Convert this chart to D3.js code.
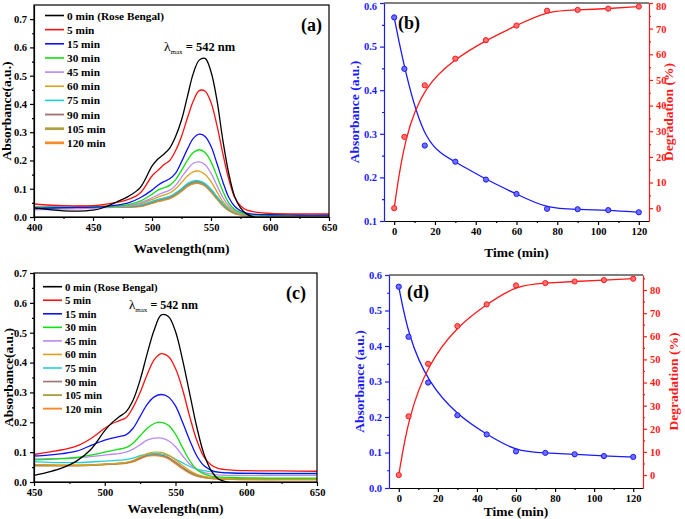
<!DOCTYPE html>
<html><head><meta charset="utf-8">
<script src="https://cdn.jsdelivr.net/npm/d3@7"></script>
<style>
body{margin:0;background:#fff}
svg{display:block}
text{font-family:"Liberation Serif","Times New Roman",serif;font-weight:bold}
</style>
</head><body><svg id="c" width="685" height="519"></svg>
<script>
// ---------- shared ----------
const seriesLabels = ["0 min (Rose Bengal)","5 min","15 min","30 min","45 min","60 min","75 min","90 min","105 min","120 min"];
const seriesColors = ["#000000","#ff1010","#1010ff","#10e010","#b98af0","#d8a21a","#22d0d0","#a07878","#aca040","#f58a2a"];

// ---------- panel (a) ----------
const wlA = [400,425,450,460,470,480,490,500,505,510,515,520,525,530,535,540,545,550,555,560,565,570,575,580,590,600,625,650];
const a0   = [0.032,0.022,0.024,0.035,0.053,0.073,0.104,0.180,0.205,0.222,0.244,0.285,0.343,0.426,0.508,0.555,0.561,0.514,0.414,0.273,0.155,0.073,0.032,0.011,-0.004,-0.003,-0.002,-0.002];
const a5   = [0.046,0.040,0.040,0.045,0.052,0.062,0.085,0.145,0.165,0.185,0.200,0.235,0.285,0.350,0.410,0.447,0.445,0.405,0.325,0.225,0.135,0.070,0.040,0.025,0.016,0.013,0.011,0.011];
const a15  = [0.030,0.033,0.035,0.037,0.042,0.050,0.068,0.095,0.112,0.125,0.135,0.155,0.195,0.240,0.278,0.293,0.285,0.250,0.190,0.125,0.070,0.038,0.022,0.014,0.009,0.008,0.007,0.007];
const a30  = [0.030,0.033,0.035,0.036,0.038,0.044,0.056,0.080,0.095,0.103,0.112,0.132,0.165,0.200,0.228,0.238,0.228,0.195,0.145,0.092,0.050,0.027,0.016,0.010,0.007,0.006,0.006,0.006];
const a45  = [0.025,0.028,0.031,0.033,0.035,0.040,0.050,0.068,0.078,0.087,0.095,0.112,0.140,0.168,0.190,0.195,0.185,0.155,0.112,0.070,0.040,0.022,0.013,0.008,0.006,0.005,0.005,0.005];
const a60  = [0.030,0.032,0.034,0.035,0.036,0.040,0.047,0.062,0.070,0.077,0.085,0.100,0.122,0.145,0.160,0.162,0.150,0.125,0.090,0.055,0.032,0.018,0.011,0.007,0.005,0.004,0.004,0.004];
const a75  = [0.035,0.036,0.037,0.037,0.037,0.038,0.042,0.055,0.062,0.067,0.073,0.085,0.100,0.118,0.128,0.128,0.118,0.098,0.072,0.047,0.028,0.016,0.010,0.007,0.005,0.004,0.004,0.004];
const a90  = [0.033,0.035,0.036,0.036,0.036,0.037,0.040,0.053,0.060,0.065,0.071,0.083,0.098,0.115,0.124,0.125,0.116,0.096,0.070,0.045,0.027,0.015,0.010,0.006,0.004,0.004,0.004,0.004];
const a105 = [0.034,0.035,0.036,0.036,0.036,0.037,0.040,0.052,0.058,0.063,0.069,0.080,0.095,0.112,0.121,0.122,0.113,0.093,0.068,0.044,0.026,0.015,0.010,0.006,0.004,0.004,0.004,0.004];
const a120 = [0.034,0.035,0.036,0.036,0.036,0.037,0.039,0.050,0.056,0.061,0.067,0.078,0.093,0.110,0.119,0.120,0.111,0.091,0.066,0.042,0.025,0.014,0.009,0.006,0.004,0.004,0.004,0.004];
const xTicksA = [400,450,500,550,600,650];
const yTicksA = [0.0,0.1,0.2,0.3,0.4,0.5,0.6,0.7];

// ---------- panel (c) ----------
const wlC = [450,460,470,480,490,500,505,510,515,520,525,530,535,540,545,550,555,560,565,570,575,580,590,600,625,650];
const c0   = [0.022,0.033,0.047,0.070,0.108,0.172,0.198,0.218,0.235,0.274,0.342,0.430,0.510,0.560,0.554,0.504,0.409,0.297,0.185,0.095,0.040,0.011,-0.003,-0.004,-0.004,-0.004];
const c5   = [0.092,0.100,0.108,0.120,0.145,0.180,0.195,0.205,0.215,0.250,0.300,0.360,0.410,0.430,0.420,0.380,0.310,0.220,0.140,0.085,0.058,0.046,0.040,0.038,0.037,0.036];
const c15  = [0.087,0.090,0.095,0.103,0.122,0.140,0.147,0.152,0.158,0.180,0.220,0.260,0.285,0.293,0.285,0.255,0.200,0.140,0.088,0.055,0.040,0.033,0.030,0.029,0.028,0.028];
const c30  = [0.074,0.076,0.078,0.082,0.090,0.100,0.105,0.110,0.115,0.130,0.155,0.180,0.196,0.200,0.190,0.160,0.115,0.072,0.042,0.027,0.020,0.017,0.015,0.014,0.013,0.013];
const c45  = [0.077,0.078,0.079,0.081,0.085,0.090,0.093,0.095,0.100,0.110,0.125,0.140,0.147,0.147,0.138,0.118,0.088,0.060,0.042,0.032,0.027,0.024,0.022,0.022,0.022,0.022];
const c60  = [0.058,0.057,0.056,0.056,0.057,0.060,0.061,0.063,0.066,0.072,0.084,0.095,0.100,0.099,0.090,0.074,0.055,0.038,0.026,0.019,0.015,0.013,0.011,0.010,0.010,0.010];
const c75  = [0.068,0.066,0.065,0.065,0.067,0.070,0.071,0.073,0.075,0.080,0.088,0.093,0.095,0.094,0.088,0.077,0.064,0.052,0.043,0.038,0.035,0.033,0.031,0.030,0.030,0.030];
const c90  = [0.056,0.055,0.055,0.055,0.056,0.059,0.060,0.062,0.064,0.070,0.080,0.090,0.093,0.090,0.082,0.066,0.048,0.033,0.023,0.017,0.014,0.012,0.011,0.010,0.010,0.010];
const c105 = [0.055,0.055,0.055,0.055,0.056,0.059,0.060,0.062,0.064,0.070,0.080,0.089,0.092,0.089,0.081,0.065,0.047,0.032,0.022,0.016,0.013,0.011,0.010,0.009,0.009,0.009];
const c120 = [0.058,0.057,0.056,0.056,0.057,0.059,0.060,0.061,0.063,0.068,0.078,0.087,0.089,0.086,0.078,0.062,0.045,0.030,0.020,0.015,0.012,0.010,0.009,0.008,0.008,0.008];
const xTicksC = [450,500,550,600,650];
const yTicksC = [0.0,0.1,0.2,0.3,0.4,0.5,0.6,0.7];

// ---------- panel (b) ----------
const timeB = [0,5,15,30,45,60,75,90,105,120];
const absB  = [0.567,0.449,0.273,0.236,0.195,0.162,0.128,0.127,0.125,0.120];
const degB  = [0,27.8,47.9,58.3,65.5,71.2,77.0,77.3,77.8,78.6];
const xTicksB = [0,20,40,60,80,100,120];
const yLeftTicksB = [0.1,0.2,0.3,0.4,0.5,0.6];
const yRightTicksB = [0,10,20,30,40,50,60,70,80];

// ---------- panel (d) ----------
const timeD = [0,5,15,30,45,60,75,90,105,120];
const absD  = [0.567,0.426,0.297,0.205,0.151,0.103,0.099,0.095,0.090,0.0875];
const degD  = [0,25.4,48.1,64.4,73.8,82.0,83.0,83.7,84.3,84.9];
const xTicksD = [0,20,40,60,80,100,120];
const yLeftTicksD = [0.0,0.1,0.2,0.3,0.4,0.5,0.6];
const yRightTicksD = [0,10,20,30,40,50,60,70,80];

const svg = d3.select("#c");

function axisStyle(g, color){
  g.selectAll("path,line").attr("stroke", color).attr("stroke-width",1.2);
  g.selectAll("text").attr("fill", color).style("font-family",'"Liberation Serif",serif').style("font-weight","bold").style("font-size","10.5px");
}
function minorVals(lo, hi, step){ const r=[]; for(let v=lo; v<=hi+1e-9; v+=step) r.push(+v.toFixed(6)); return r; }
// keep tick labels near the top edge inside the picture
function keepInside(g, scale){
  g.selectAll(".tick").each(function(d){
    if(scale(d) < 6) d3.select(this).select("text").attr("y", 3.5);
  });
}

function drawSpectrum(o){
  const g = svg.append("g");
  const x = d3.scaleLinear().domain(o.xdom).range([o.x0,o.x1]);
  const y = d3.scaleLinear().domain(o.ydom).range([o.y1,o.y0]);
  const clipId = "clip"+o.tag;
  svg.append("clipPath").attr("id",clipId).append("rect").attr("x",o.x0).attr("y",o.y0).attr("width",o.x1-o.x0).attr("height",o.y1-o.y0);
  const line = d3.line().x(d=>x(d[0])).y(d=>y(d[1])).curve(d3.curveCatmullRom.alpha(0.5));
  const order = d3.range(o.series.length).reverse();
  order.forEach(i=>{
    const pts = o.wl.map((w,k)=>[w,o.series[i][k]]);
    g.append("path").attr("d",line(pts)).attr("fill","none").attr("stroke",seriesColors[i])
      .attr("stroke-width",o.widths[i]).attr("clip-path",`url(#${clipId})`);
  });
  g.append("rect").attr("x",o.x0).attr("y",o.y0).attr("width",o.x1-o.x0).attr("height",o.y1-o.y0).attr("fill","none").attr("stroke","#000").attr("stroke-width",1.2);
  const xa = g.append("g").attr("transform",`translate(0,${o.y1})`)
    .call(d3.axisBottom(x).tickValues(o.xticks).tickSize(4).tickSizeOuter(0).tickPadding(3).tickFormat(d3.format("d")));
  axisStyle(xa,"#000");
  const xm = g.append("g").attr("transform",`translate(0,${o.y1})`)
    .call(d3.axisBottom(x).tickValues(o.xminor).tickSize(2).tickSizeOuter(0).tickFormat(""));
  axisStyle(xm,"#000"); xm.select("path").remove();
  const ya = g.append("g").attr("transform",`translate(${o.x0},0)`)
    .call(d3.axisLeft(y).tickValues(o.yticks).tickSize(4).tickSizeOuter(0).tickPadding(3).tickFormat(d3.format(".1f")));
  axisStyle(ya,"#000");
  const ym = g.append("g").attr("transform",`translate(${o.x0},0)`)
    .call(d3.axisLeft(y).tickValues(o.yminor).tickSize(2).tickSizeOuter(0).tickFormat(""));
  axisStyle(ym,"#000"); ym.select("path").remove();
  g.append("text").attr("x",(o.x0+o.x1)/2).attr("y",o.xtitleY).attr("text-anchor","middle").style("font-size","13.5px").text("Wavelength(nm)");
  g.append("text").attr("transform",`translate(${o.ytitleX},${(o.y0+o.y1)/2}) rotate(-90)`).attr("text-anchor","middle").style("font-size","13.5px").text("Absorbance(a.u.)");
  seriesLabels.forEach((lab,i)=>{
    const ly = o.legY + i*o.legDy;
    g.append("line").attr("x1",o.legX).attr("x2",o.legX+o.legLen).attr("y1",ly).attr("y2",ly).attr("stroke",seriesColors[i]).attr("stroke-width",o.widths[i]+0.3);
    g.append("text").attr("x",o.legX+o.legLen+3).attr("y",ly+4).style("font-size",o.legFont+"px").text(lab);
  });
  const t = g.append("text").attr("x",o.lamX).attr("y",o.lamY).style("font-size",o.lamFont+"px");
  t.append("tspan").style("font-weight","normal").style("font-size",(o.lamFont+1)+"px").text("λ");
  t.append("tspan").attr("dy",3).style("font-weight","normal").style("font-size","7px").text("max");
  t.append("tspan").attr("dy",-3).text(" = 542 nm");
  g.append("text").attr("x",o.labX).attr("y",o.labY).style("font-size","18px").text(o.label);
}

function drawKinetics(o){
  const g = svg.append("g");
  const x = d3.scaleLinear().domain(o.xdom).range([o.x0,o.x1]);
  const yl = d3.scaleLinear().domain(o.yldom).range([o.y1,o.y0]);
  const yr = d3.scaleLinear().domain(o.yrdom).range([o.y1,o.y0]);
  const blue="#1a1aff", red="#ff1a1a";
  g.append("line").attr("x1",o.x0).attr("x2",o.x1).attr("y1",o.y0).attr("y2",o.y0).attr("stroke","#000").attr("stroke-width",1.2);
  const lb = d3.line().x((d,i)=>x(o.t[i])).y(d=>yl(d)).curve(d3.curveBasis);
  const lr = d3.line().x((d,i)=>x(o.t[i])).y(d=>yr(d)).curve(d3.curveBasis);
  g.append("path").attr("d",lb(o.abs)).attr("fill","none").attr("stroke",blue).attr("stroke-width",1.3);
  g.append("path").attr("d",lr(o.deg)).attr("fill","none").attr("stroke",red).attr("stroke-width",1.3);
  o.t.forEach((tv,i)=>{
    g.append("circle").attr("cx",x(tv)).attr("cy",yl(o.abs[i])).attr("r",2.6).attr("fill","#6f6fff").attr("stroke",blue).attr("stroke-width",1);
    g.append("circle").attr("cx",x(tv)).attr("cy",yr(o.deg[i])).attr("r",2.6).attr("fill","#ff7070").attr("stroke",red).attr("stroke-width",1);
  });
  const xa = g.append("g").attr("transform",`translate(0,${o.y1})`)
    .call(d3.axisBottom(x).tickValues(o.xticks).tickSize(4).tickSizeOuter(0).tickPadding(3).tickFormat(d3.format("d")));
  axisStyle(xa,"#000");
  const xm = g.append("g").attr("transform",`translate(0,${o.y1})`)
    .call(d3.axisBottom(x).tickValues(minorVals(0,120,10).filter(v=>v%20!==0)).tickSize(2).tickSizeOuter(0).tickFormat(""));
  axisStyle(xm,"#000"); xm.select("path").remove();
  const ya = g.append("g").attr("transform",`translate(${o.x0},0)`)
    .call(d3.axisLeft(yl).tickValues(o.ylticks).tickSize(4).tickSizeOuter(0).tickPadding(3).tickFormat(d3.format(".1f")));
  axisStyle(ya,blue); keepInside(ya, yl);
  const yam = g.append("g").attr("transform",`translate(${o.x0},0)`)
    .call(d3.axisLeft(yl).tickValues(o.ylminor).tickSize(2).tickSizeOuter(0).tickFormat(""));
  axisStyle(yam,blue); yam.select("path").remove();
  const yb = g.append("g").attr("transform",`translate(${o.x1},0)`)
    .call(d3.axisRight(yr).tickValues(o.yrticks).tickSize(4).tickSizeOuter(0).tickPadding(3).tickFormat(d3.format("d")));
  axisStyle(yb,red); keepInside(yb, yr);
  const ybm = g.append("g").attr("transform",`translate(${o.x1},0)`)
    .call(d3.axisRight(yr).tickValues(o.yrminor).tickSize(2).tickSizeOuter(0).tickFormat(""));
  axisStyle(ybm,red); ybm.select("path").remove();
  g.append("text").attr("x",(o.x0+o.x1)/2).attr("y",o.xtitleY).attr("text-anchor","middle").style("font-size","13.5px").text("Time (min)");
  g.append("text").attr("transform",`translate(${o.yltitleX},${(o.y0+o.y1)/2}) rotate(-90)`).attr("text-anchor","middle").attr("fill",blue).style("font-size","13.5px").text("Absorbance (a.u.)");
  g.append("text").attr("transform",`translate(${o.yrtitleX},${(o.y0+o.y1)/2}) rotate(-90)`).attr("text-anchor","middle").attr("fill",red).style("font-size","13.5px").text("Degradation (%)");
  g.append("text").attr("x",o.labX).attr("y",o.labY).style("font-size","18px").text(o.label);
}

drawSpectrum({tag:"a", wl:wlA, series:[a0,a5,a15,a30,a45,a60,a75,a90,a105,a120],
  widths:[1.3,1.3,1.3,1.3,1.3,1.3,1.3,1.6,2.4,2.4],
  xdom:[400,650], ydom:[0,0.75], x0:34, x1:329, y0:5, y1:217,
  xticks:xTicksA, xminor:[425,475,525,575,625], yticks:yTicksA, yminor:[0.05,0.15,0.25,0.35,0.45,0.55,0.65],
  xtitleY:253, ytitleX:11,
  legX:45, legLen:19, legY:15.5, legDy:14.15, legFont:11.3,
  lamX:164, lamY:51, lamFont:12.5, labX:301, labY:31, label:"(a)"});

drawSpectrum({tag:"c", wl:wlC, series:[c0,c5,c15,c30,c45,c60,c75,c90,c105,c120],
  widths:[1.3,1.3,1.3,1.3,1.3,1.3,1.3,1.4,1.6,1.6],
  xdom:[450,650], ydom:[0,0.7], x0:34, x1:317, y0:273, y1:482,
  xticks:xTicksC, xminor:[475,525,575,625], yticks:yTicksC, yminor:[0.05,0.15,0.25,0.35,0.45,0.55,0.65],
  xtitleY:513, ytitleX:13,
  legX:43, legLen:19, legY:286.7, legDy:13.55, legFont:10.8,
  lamX:129, lamY:309, lamFont:12, labX:286, labY:299, label:"(c)"});

drawKinetics({t:timeB, abs:absB, deg:degB, xdom:[-5,125], yldom:[0.1,0.6], yrdom:[-5,80],
  x0:384, x1:649, y0:3, y1:221,
  xticks:xTicksB, ylticks:yLeftTicksB, ylminor:[0.15,0.25,0.35,0.45,0.55], yrticks:yRightTicksB, yrminor:[5,15,25,35,45,55,65,75],
  xtitleY:257, yltitleX:359, yrtitleX:673, labX:398, labY:29, label:"(b)"});

drawKinetics({t:timeD, abs:absD, deg:degD, xdom:[-5,125], yldom:[0,0.6], yrdom:[-5.6,86.5],
  x0:389, x1:643, y0:275, y1:488,
  xticks:xTicksD, ylticks:yLeftTicksD, ylminor:[0.05,0.15,0.25,0.35,0.45,0.55], yrticks:yRightTicksD, yrminor:[5,15,25,35,45,55,65,75,85],
  xtitleY:516, yltitleX:364, yrtitleX:678, labX:407, labY:298, label:"(d)"});
</script></body></html>
